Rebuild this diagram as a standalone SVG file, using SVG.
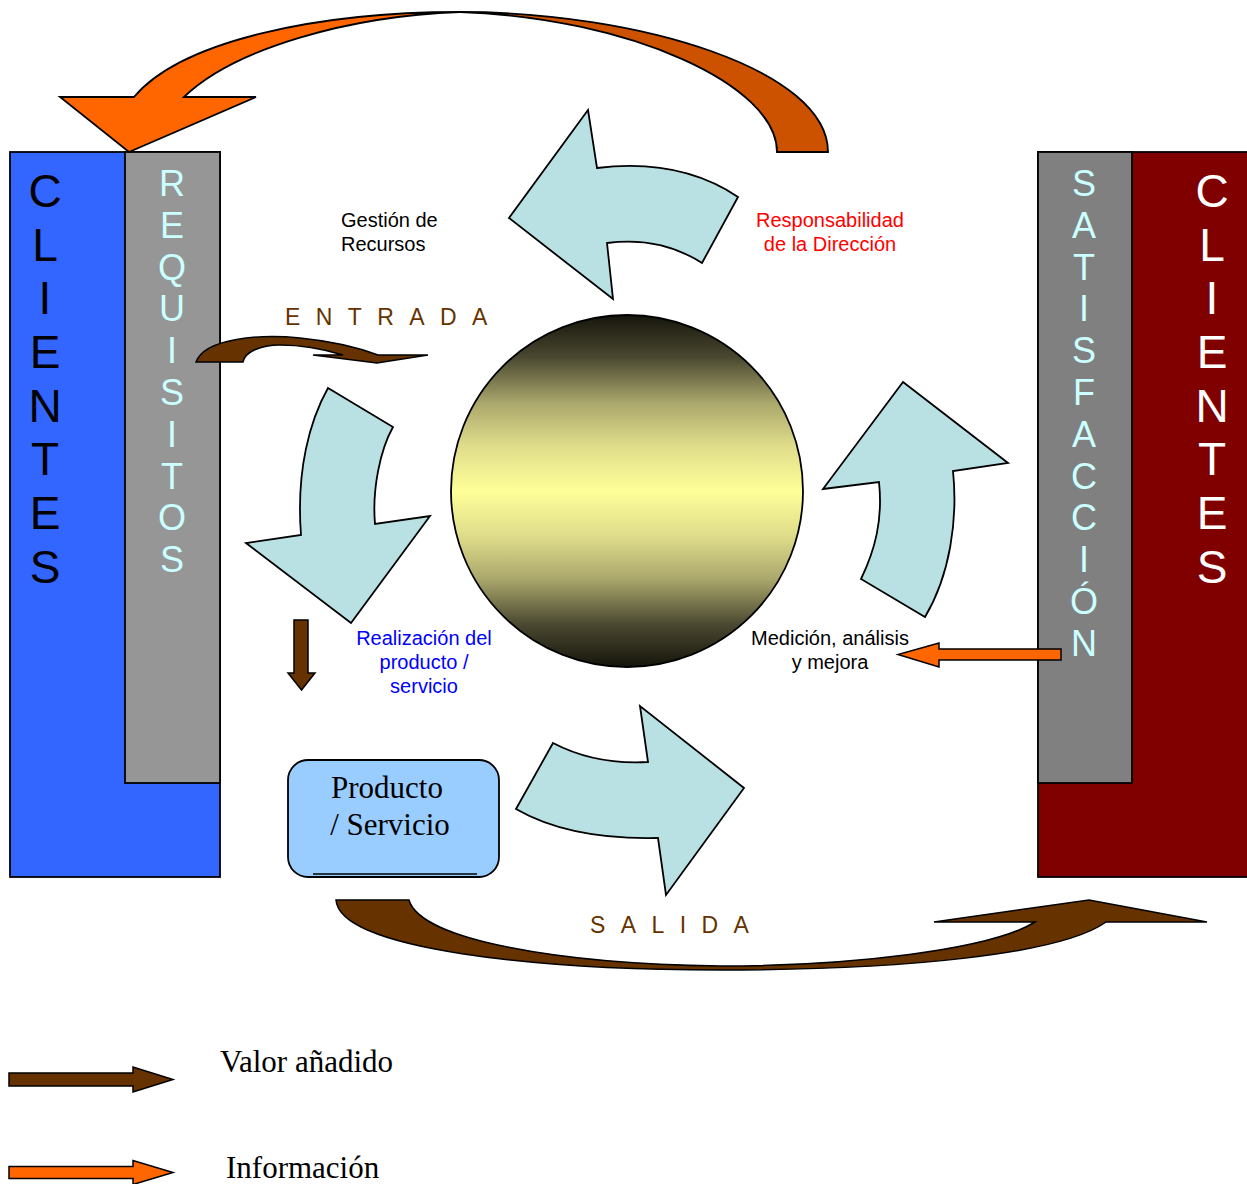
<svg xmlns="http://www.w3.org/2000/svg" width="1247" height="1184" viewBox="0 0 1247 1184">
  <defs>
    <linearGradient id="sphereFill" x1="0" y1="0" x2="0" y2="1">
      <stop offset="0" stop-color="#16150c"/>
      <stop offset="0.12" stop-color="#4a4830"/>
      <stop offset="0.25" stop-color="#aaa76c"/>
      <stop offset="0.37" stop-color="#dedc8a"/>
      <stop offset="0.5" stop-color="#ffff99"/>
      <stop offset="0.63" stop-color="#dedc8a"/>
      <stop offset="0.75" stop-color="#aaa76c"/>
      <stop offset="0.88" stop-color="#4a4830"/>
      <stop offset="1" stop-color="#16150c"/>
    </linearGradient>
    <style>
      .edge { stroke: #000; stroke-width: 1.8; stroke-linejoin: miter; }
      .flow { fill: #b9e0e3; stroke: #000; stroke-width: 1.8; stroke-linejoin: miter; }
      .brown { fill: #663300; stroke: #000; stroke-width: 1.5; }
      .info { fill: #ff6600; stroke: #000; stroke-width: 1.5; }
      .sans { font-family: "Liberation Sans", Arial, sans-serif; }
      .serif { font-family: "Liberation Serif", "Times New Roman", serif; }
      .big { font-size: 46px; text-anchor: middle; }
      .mid { font-size: 36px; text-anchor: middle; fill: #ccffff; }
      .lbl { font-size: 20px; }
      .spaced { font-size: 23px; fill: #663300; letter-spacing: 15.4px; }
    </style>
  </defs>

  <!-- left client column with requirements strip -->
  <g id="clientes-izq">
    <rect x="10" y="152" width="210" height="725" fill="#3366ff" class="edge"/>
    <text class="sans big" fill="#000"><tspan x="45" y="207">C</tspan><tspan x="45" y="261">L</tspan><tspan x="45" y="314">I</tspan><tspan x="45" y="368">E</tspan><tspan x="45" y="422">N</tspan><tspan x="45" y="475">T</tspan><tspan x="45" y="529">E</tspan><tspan x="45" y="583">S</tspan></text>
  </g>
  <g id="requisitos">
    <rect x="125" y="152" width="95" height="631" fill="#969696" class="edge"/>
    <text class="sans mid"><tspan x="172" y="196">R</tspan><tspan x="172" y="238">E</tspan><tspan x="172" y="280">Q</tspan><tspan x="172" y="321">U</tspan><tspan x="172" y="363">I</tspan><tspan x="172" y="405">S</tspan><tspan x="172" y="447">I</tspan><tspan x="172" y="489">T</tspan><tspan x="172" y="530">O</tspan><tspan x="172" y="572">S</tspan></text>
  </g>

  <!-- right client column with satisfaction strip -->
  <g id="clientes-der">
    <rect x="1038" y="152" width="210" height="725" fill="#800000" class="edge"/>
    <text class="sans big" fill="#ffffff"><tspan x="1212" y="207">C</tspan><tspan x="1212" y="261">L</tspan><tspan x="1212" y="314">I</tspan><tspan x="1212" y="368">E</tspan><tspan x="1212" y="422">N</tspan><tspan x="1212" y="475">T</tspan><tspan x="1212" y="529">E</tspan><tspan x="1212" y="583">S</tspan></text>
  </g>
  <g id="satisfaccion">
    <rect x="1038" y="152" width="94" height="631" fill="#808080" class="edge"/>
    <text class="sans mid"><tspan x="1084" y="196">S</tspan><tspan x="1084" y="238">A</tspan><tspan x="1084" y="280">T</tspan><tspan x="1084" y="321">I</tspan><tspan x="1084" y="363">S</tspan><tspan x="1084" y="405">F</tspan><tspan x="1084" y="447">A</tspan><tspan x="1084" y="489">C</tspan><tspan x="1084" y="530">C</tspan><tspan x="1084" y="572">I</tspan><tspan x="1084" y="614">Ó</tspan><tspan x="1084" y="656">N</tspan></text>
  </g>

  <!-- central process sphere -->
  <g id="sistema">
    <circle cx="627" cy="491" r="176" fill="url(#sphereFill)" stroke="#000" stroke-width="1.8"/>
  </g>

  <!-- product / service box -->
  <g id="producto">
    <rect x="288" y="760" width="211" height="117" rx="20" ry="20" fill="#99ccff" class="edge"/>
    <line x1="313" y1="874" x2="477" y2="874" stroke="#000" stroke-width="1.5"/>
    <text class="serif" font-size="31" text-anchor="middle" fill="#000"><tspan x="387" y="798">Producto</tspan><tspan x="390" y="835">/ Servicio</tspan></text>
  </g>

  <!-- process labels -->
  <g id="etiquetas">
    <text class="sans lbl" fill="#000"><tspan x="341" y="227">Gestión de</tspan><tspan x="341" y="251">Recursos</tspan></text>
    <text class="sans lbl" fill="#ff0000" text-anchor="middle"><tspan x="830" y="227">Responsabilidad</tspan><tspan x="830" y="251">de la Dirección</tspan></text>
    <text class="sans lbl" fill="#0000ff" text-anchor="middle"><tspan x="424" y="645">Realización del</tspan><tspan x="424" y="669">producto /</tspan><tspan x="424" y="693">servicio</tspan></text>
    <text class="sans lbl" fill="#000" text-anchor="middle"><tspan x="830" y="645">Medición, análisis</tspan><tspan x="830" y="669">y mejora</tspan></text>
    <text class="sans spaced" x="285" y="325">ENTRADA</text>
    <text class="sans spaced" x="590" y="933">SALIDA</text>
  </g>

  <!-- connectors: process cycle, value flow and information flow -->
  <g id="conectores">
    <!-- process cycle arrows around the sphere -->
    <path class="flow" d="M588,110 L597,168 Q680,158 738,197 L702,263 Q660,236 607,243 L613,299 L509,218 Z"/>
    <path class="flow" d="M328,388 L393,427 C380,450 372,490 375,524 L430,516 L351,623 L246,543 L301,535 C296,470 310,420 328,388 Z"/>
    <path class="flow" d="M553,743 Q595,765 648,762 L640,706 L744,788 L666,895 L658,838 Q570,840 516,809 Z"/>
    <path class="flow" d="M903,382 L1008,463 L953,471 C958,520 950,575 925,617 L861,579 C875,550 883,520 879,482 L823,489 Z"/>

    <!-- information feedback from satisfaction back to requirements -->
    <path fill="#ff6600" class="edge" d="M134,97 L60,97 L129,152 L256,97 L184,97 C235,48 350,16 460,12 C320,12 182,40 134,97 Z"/>
    <path fill="#cc5200" class="edge" d="M460,12 C640,12 828,70 828,152 L777,152 C777,85 630,18 460,12 Z"/>

    <!-- input: requirements into realization -->
    <path class="brown" d="M196,362 C205,338 260,334 300,338 C340,342 362,349 378,355 L428,355 L377,363 L313,355 L343,355 C320,348 300,345 280,345 C260,345 245,352 243,362 Z"/>
    <path class="brown" d="M294,620 L308,620 L308,673 L315,673 L301.5,690 L288,673 L294,673 Z"/>

    <!-- output: product delivered to clients -->
    <path class="brown" fill="#5a2c00" d="M336,900 L409,900 C420,940 560,964 720,966 C850,966 990,950 1035,922 L934,922 L1089,900 L1207,922 L1106,922 C1060,955 900,970 720,970 C540,970 340,950 336,900 Z"/>

    <!-- measurement input from satisfaction -->
    <path class="info" d="M1061,649 L1061,660 L939,660 L939,667 L898,654.5 L939,643 L939,649 Z"/>
  </g>

  <!-- legend -->
  <g id="leyenda">
    <path class="brown" d="M9,1073 L133,1073 L133,1067 L173,1079.5 L133,1092 L133,1086 L9,1086 Z"/>
    <text class="serif" font-size="31" x="220" y="1072" fill="#000">Valor añadido</text>
    <path class="info" d="M9,1166.5 L133,1166.5 L133,1160.5 L173,1172.5 L133,1184.5 L133,1178.5 L9,1178.5 Z"/>
    <text class="serif" font-size="31" x="226" y="1178" fill="#000">Información</text>
  </g>
</svg>
